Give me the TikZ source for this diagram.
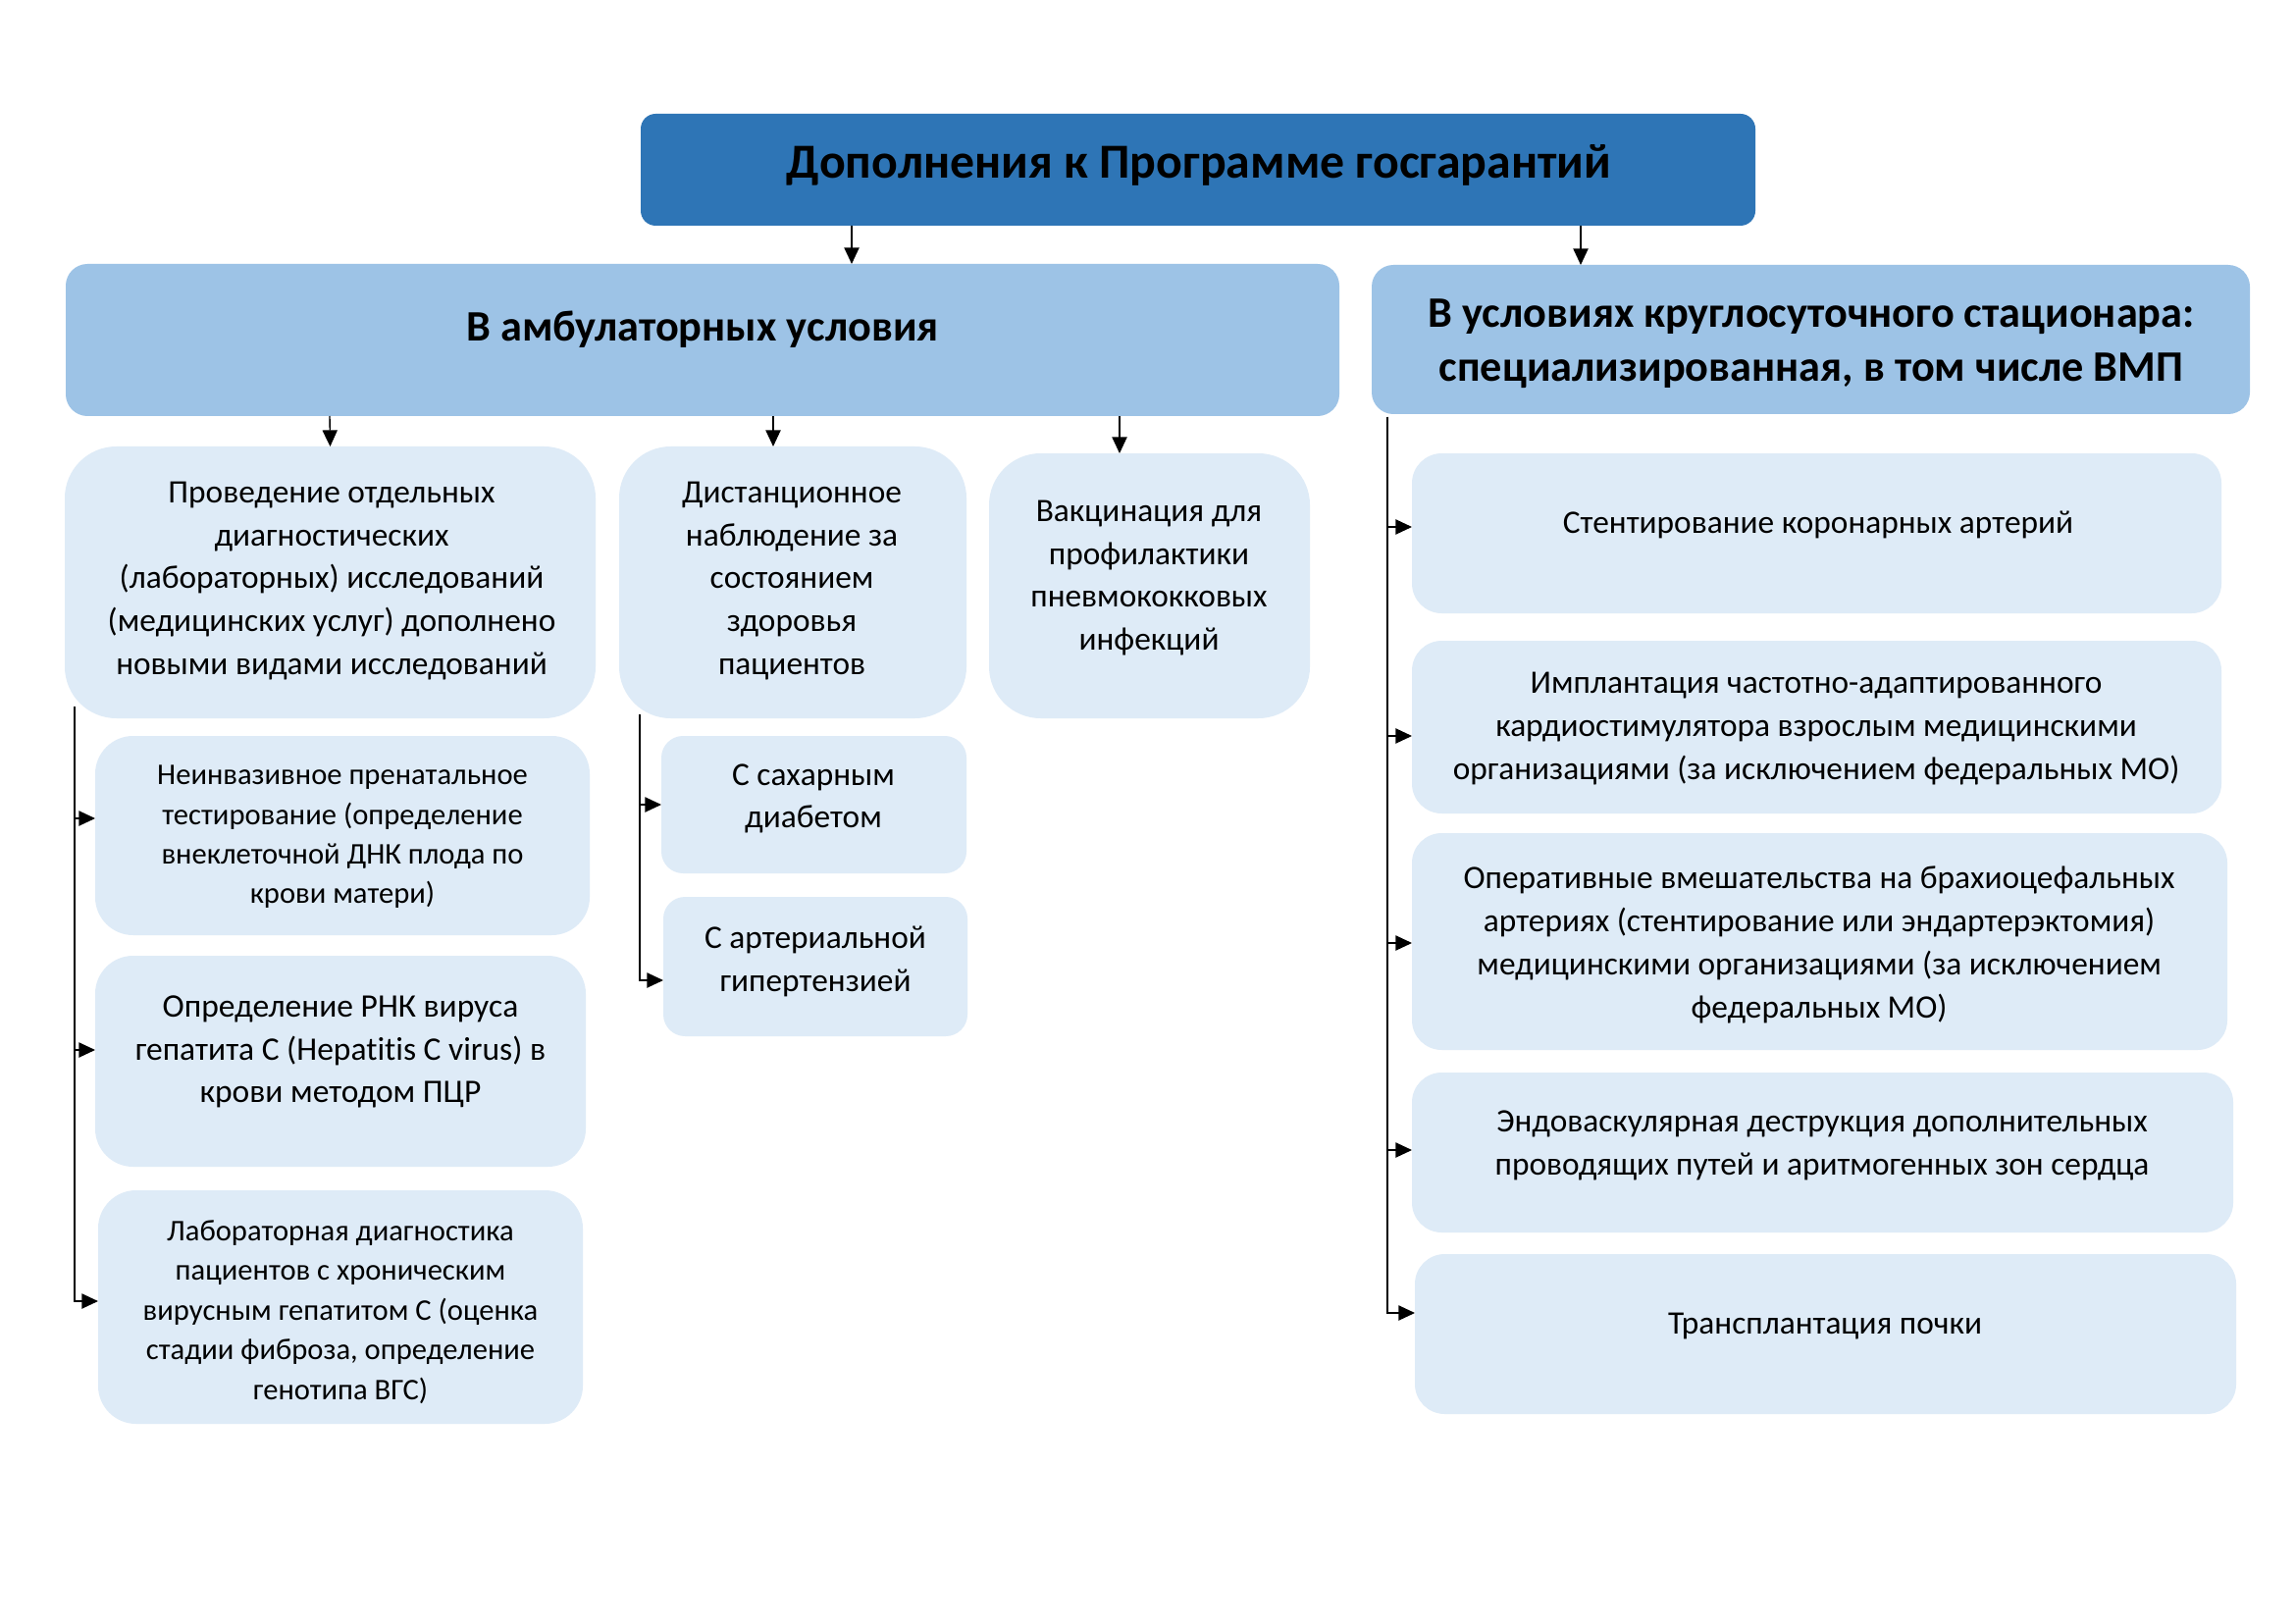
\documentclass[tikz,border=0pt]{standalone}
\usepackage{fontspec}
\setmainfont{Carlito}[Ligatures={NoCommon}]
\usetikzlibrary{arrows.meta,calc}
\def\u{0.0127cm}
\definecolor{cTop}{HTML}{2E75B6}
\definecolor{cMid}{HTML}{9DC3E6}
\definecolor{cLow}{HTML}{DEEBF7}
% name, x1, y1, x2, y2, radius(pt), style
\newcommand\bx[7]{%
  \node[#7, rounded corners=#6pt, minimum width={(#4-#2)*\u}, minimum height={(#5-#3)*\u}] (#1) at ({(#2+#4)/2},{(#3+#5)/2}) {};}
\tikzset{
  boxbase/.style={inner sep=0pt, outer sep=0pt, draw=none},
  topbox/.style={boxbase, fill=cTop},
  midbox/.style={boxbase, fill=cMid},
  lowbox/.style={boxbase, fill=cLow},
  txt/.style={inner sep=0pt, align=center, text=black},
  ttl/.style={txt, font=\fontsize{18}{22}\selectfont\bfseries},
  hdr/.style={txt, font=\fontsize{16}{20}\selectfont\bfseries},
  atxt/.style={txt, font=\fontsize{12.05}{15.8}\selectfont},
  btxt/.style={txt, font=\fontsize{11.05}{14.6}\selectfont},
  b2txt/.style={txt, font=\fontsize{12.1}{15.6}\selectfont},
  dtxt/.style={txt, font=\fontsize{12.05}{15.9}\selectfont},
  arr/.style={draw=black, line width=0.5pt, -{Triangle[length=6pt,width=5.5pt]}},
}
\begin{document}
\begin{tikzpicture}[x=0.0127cm, y=-0.0127cm]
\useasboundingbox (0,0) rectangle (2339,1654);
\fill[white] (0,0) rectangle (2339,1654);

% boxes
\bx{T}{653}{116}{1789}{230}{5.5}{topbox}
\bx{M1}{67}{269}{1365}{424}{8}{midbox}
\bx{M2}{1398}{270}{2293}{422}{8}{midbox}
\bx{A1}{66}{455}{607}{732}{19}{lowbox}
\bx{A2}{631}{455}{985}{732}{19}{lowbox}
\bx{A3}{1008}{462}{1335}{732}{19}{lowbox}
\bx{B1}{97}{750}{601}{953}{14}{lowbox}
\bx{B2}{97}{974}{597}{1189}{14}{lowbox}
\bx{B3}{100}{1213}{594}{1451}{14}{lowbox}
\bx{C1}{674}{750}{985}{890}{8}{lowbox}
\bx{C2}{676}{914}{986}{1056}{8}{lowbox}
\bx{D1}{1439}{462}{2264}{625}{11}{lowbox}
\bx{D2}{1439}{653}{2264}{829}{11}{lowbox}
\bx{D3}{1439}{849}{2270}{1070}{11}{lowbox}
\bx{D4}{1439}{1093}{2276}{1256}{11}{lowbox}
\bx{D5}{1442}{1278}{2279}{1441}{11}{lowbox}

% texts
\node[ttl] (tT) at (1222,168) {Дополнения к Программе госгарантий};
\node[hdr] (tM1) at (716,336) {В амбулаторных условия};
\node[hdr] (tM2) at (1846,350) {В условиях круглосуточного стационара:\\специализированная, в том числе ВМП};
\node[atxt] (tA1) at (338,592) {Проведение отдельных\\диагностических\\(лабораторных) исследований\\(медицинских услуг) дополнено\\новыми видами исследований};
\node[atxt] (tA2) at (807,592) {Дистанционное\\наблюдение за\\состоянием\\здоровья\\пациентов};
\node[atxt] (tA3) at (1171,589) {Вакцинация для\\профилактики\\пневмококковых\\инфекций};
\node[btxt] (tB1) at (349,853) {Неинвазивное пренатальное\\тестирование (определение\\внеклеточной ДНК плода по\\крови матери)};
\node[b2txt] (tB2) at (347,1072) {Определение РНК вируса\\гепатита С (Hepatitis C virus) в\\крови методом ПЦР};
\node[btxt] (tB3) at (347,1337) {Лабораторная диагностика\\пациентов с хроническим\\вирусным гепатитом С (оценка\\стадии фиброза, определение\\генотипа ВГС)};
\node[atxt] (tC1) at (829,814) {С сахарным\\диабетом};
\node[atxt] (tC2) at (831,980) {С артериальной\\гипертензией};
\node[dtxt] (tD1) at (1853,535) {Стентирование коронарных артерий};
\node[dtxt] (tD2) at (1851,743) {Имплантация частотно-адаптированного\\кардиостимулятора взрослым медицинскими\\организациями (за исключением федеральных МО)};
\node[dtxt] (tD3) at (1854,963) {Оперативные вмешательства на брахиоцефальных\\артериях (стентирование или эндартерэктомия)\\медицинскими организациями (за исключением\\федеральных МО)};
\node[dtxt] (tD4) at (1857,1167) {Эндоваскулярная деструкция дополнительных\\проводящих путей и аритмогенных зон сердца};
\node[dtxt] (tD5) at (1860,1352) {Трансплантация почки};

% connectors
\draw[arr] ([xshift={-353*\u}]T.south) -- ([xshift={152*\u}]M1.north);
\draw[arr] ([xshift={390*\u}]T.south) -- ([xshift={-234.5*\u}]M2.north);
\draw[arr] ([xshift={-380*\u}]M1.south) -- (A1.north);
\draw[arr] ([xshift={72*\u}]M1.south) -- ([xshift={-20*\u}]A2.north);
\draw[arr] ([xshift={425*\u}]M1.south) -- ([xshift={-30.5*\u}]A3.north);

\coordinate (sA) at ([xshift={10*\u},yshift={12*\u}]A1.south west);
\draw[arr] (sA) |- ([yshift={17.5*\u}]B1.west);
\draw[arr] (sA) |- ([yshift={11.5*\u}]B2.west);
\draw[arr] (sA) |- ([yshift={6*\u}]B3.west);

\coordinate (sC) at ([xshift={21*\u},yshift={4*\u}]A2.south west);
\draw[arr] (sC) |- (C1.west);
\draw[arr] (sC) |- ([yshift={-14*\u}]C2.west);

\coordinate (sD) at ([xshift={16*\u},yshift={-3*\u}]M2.south west);
\draw[arr] (sD) |- ([yshift={6.5*\u}]D1.west);
\draw[arr] (sD) |- ([yshift={-9*\u}]D2.west);
\draw[arr] (sD) |- ([yshift={-1.5*\u}]D3.west);
\draw[arr] (sD) |- ([yshift={2.5*\u}]D4.west);
\draw[arr] (sD) |- ([yshift={21.5*\u}]D5.west);
\end{tikzpicture}
\end{document}
